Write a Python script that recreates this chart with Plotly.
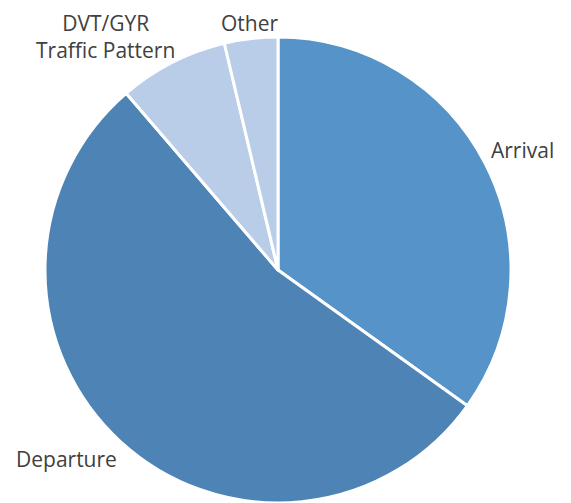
import plotly.graph_objects as go

W, H = 571, 503
OFF = 8  # page body margin offset
labels = ["Arrival", "Departure", "DVT/GYR<br>Traffic Pattern", "Other"]
values = [34.9, 53.8, 7.6, 3.7]
colors = ["#5593c9", "#4d84b5", "#b9cde9", "#b9cde9"]

# label centers in window pixels (x, y from top); None -> pinned to top edge
label_pos = [(522, 150), (66, 459), (105, None), (249, None)]

cx, cy, r = 278 - OFF, 270 - OFF, 233

fig = go.Figure(go.Pie(
    labels=labels,
    values=values,
    sort=False,
    direction="clockwise",
    rotation=0,
    textinfo="none",
    hoverinfo="label+percent",
    marker=dict(colors=colors, line=dict(color="white", width=3)),
    domain=dict(x=[(cx - r) / W, (cx + r) / W], y=[1 - (cy + r) / H, 1 - (cy - r) / H]),
    showlegend=False,
))

for lab, (px, py) in zip(labels, label_pos):
    if py is None:
        y, ya = 1.0, "top"
    else:
        y, ya = 1 - (py - OFF) / H, "middle"
    fig.add_annotation(
        x=(px - OFF) / W, y=y, xref="paper", yref="paper",
        text=lab, showarrow=False, xanchor="center", yanchor=ya, borderpad=0,
        font=dict(family="Open Sans", size=21, color="#404040"),
    )

fig.update_layout(
    width=W, height=H,
    margin=dict(l=0, r=0, t=0, b=0),
    paper_bgcolor="white", plot_bgcolor="white",
)
fig.write_html("out.html")
